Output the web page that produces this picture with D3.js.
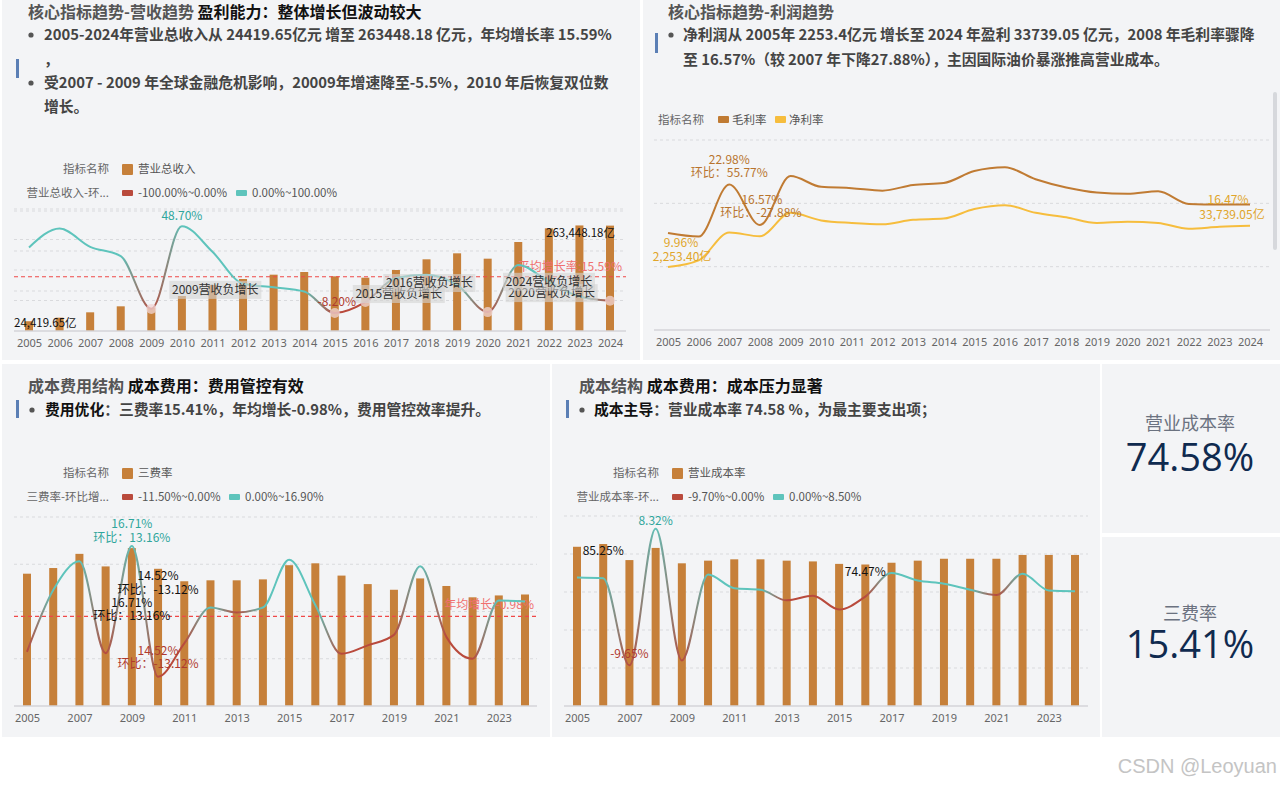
<!DOCTYPE html>
<html>
<head>
<meta charset="utf-8">
<script src="https://cdn.jsdelivr.net/npm/d3@7"></script>
<style>
body { margin: 0; background: #fff; font-family: "Noto Sans CJK SC", "Noto Sans", sans-serif; }
</style>
</head>
<body>
<div id="chart"></div>
<script>
// ---- data ----
const years = [2005, 2006, 2007, 2008, 2009, 2010, 2011, 2012, 2013, 2014,
               2015, 2016, 2017, 2018, 2019, 2020, 2021, 2022, 2023, 2024];
const oddYears = [2005, 2007, 2009, 2011, 2013, 2015, 2017, 2019, 2021, 2023];

// 营业总收入 (亿元) and its 环比 growth (%)
const revenue = [24419.65, 33300, 46700, 61700, 58300, 87500, 115000, 130000, 140800, 147500,
                 136700, 133300, 152500, 179200, 194200, 180800, 222500, 256700, 263900, 263448.18];
const revenueGrowth = [34.8, 47.2, 35.2, 29.1, -5.5, 48.70, 31.9, 11.0, 8.7, 5.9,
                       -8.20, -1.0, 14.8, 16.9, 10.2, -7.6, 23.3, 12.4, 2.6, -0.2];
const revenueAvgGrowth = 15.59;

// 毛利率 / 净利率 (%)
const grossMargin = [15.3, 14.75, 22.98, 16.57, 24.3, 22.6, 22.4, 22.0, 22.9, 23.2,
                     25.1, 25.7, 23.8, 22.5, 21.7, 21.5, 21.9, 19.9, 19.8, 19.8];
const netMargin = [9.96, 11.0, 15.4, 14.8, 18.5, 17.3, 16.9, 16.7, 17.4, 17.6,
                   19.1, 19.7, 18.5, 17.8, 16.9, 17.1, 16.9, 16.0, 16.3, 16.47];

// 三费率 (%) and its 环比 growth (%)
const feeRate = [14.0, 14.6, 16.1, 14.77, 16.71, 14.52, 13.2, 13.3, 13.3, 13.4,
                 14.9, 15.1, 13.8, 12.9, 12.3, 13.5, 12.7, 11.5, 11.7, 11.8];
const feeGrowth = [-8.1, 4.3, 10.1, -8.4, 13.16, -13.12, -6.4, 0.8, -0.2, 0.8,
                   10.4, 1.3, -8.5, -6.8, -4.7, 9.1, -5.1, -9.5, 2.2, 2.0];
const feeAvgGrowth = -0.98;

// 营业成本率 (%) and its 环比 growth (%)
const costRate = [83.8, 85.25, 76.8, 83.2, 75.1, 76.5, 77.2, 77.2, 76.5, 76.1,
                  74.8, 74.47, 75.4, 76.5, 77.5, 77.5, 77.5, 79.5, 79.5, 79.5];
const costGrowth = [1.9, 1.8, -9.65, 8.32, -9.0, 2.3, 0.5, 0.3, -1.1, -0.5,
                    -2.3, -0.6, 2.5, 1.5, 1.1, 0.3, -0.4, 2.4, 0.2, 0.1];

const kpiLabels = ["营业成本率", "三费率"];
const kpiValues = ["74.58%", "15.41%"];

// ---- colours ----
const BAR = "#c6803a", TEAL = "#5ec4bc", RED = "#b94a3c";
const BROWN = "#c07b33", GOLD = "#f6bd3d";
const PANEL = "#f3f4f6";

const svg = d3.select("#chart").append("svg")
    .attr("width", 1280).attr("height", 787)
    .style("font-family", '"Noto Sans CJK SC", "Noto Sans", sans-serif');
const defs = svg.append("defs");

// panels
[[2, 0, 638, 360], [643, 0, 637, 360], [2, 364, 548, 373], [552, 364, 548, 373],
 [1102, 364, 178, 169], [1102, 537, 178, 200]].forEach(p => {
    svg.append("rect").attr("x", p[0]).attr("y", p[1]).attr("width", p[2]).attr("height", p[3])
       .attr("fill", PANEL);
});
// little scrollbar on the profit panel
svg.append("rect").attr("x", 1273).attr("y", 92).attr("width", 4).attr("height", 158)
   .attr("rx", 2).attr("fill", "#d6d8dc");

// text helper: parts = [[string, fill, weight], ...]
function rich(x, y, parts, size, anchor) {
    const t = svg.append("text").attr("x", x).attr("y", y)
        .attr("font-size", size).attr("text-anchor", anchor || "start");
    parts.forEach(p => t.append("tspan").text(p[0]).attr("fill", p[1]).attr("font-weight", p[2] || 400));
    return t;
}
function label(g, x, y, s, fill, size, anchor) {
    return g.append("text").attr("x", x).attr("y", y).text(s)
        .attr("fill", fill).attr("font-size", size || 12)
        .attr("text-anchor", anchor || "middle");
}
function blueMark(x, y, h) {
    svg.append("rect").attr("x", x).attr("y", y).attr("width", 3).attr("height", h).attr("fill", "#5b7fb5");
}
function bullet(x, y) {
    svg.append("circle").attr("cx", x).attr("cy", y).attr("r", 2.6).attr("fill", "#555");
}

const BODY = 14.8;

// ---- headers ----
rich(28, 18, [["核心指标趋势-营收趋势", "#555", 600], [" 盈利能力：整体增长但波动较大", "#111", 700]], 16);
bullet(31, 35);
rich(44, 40, [["2005-2024年营业总收入从 24419.65亿元 增至 263448.18 亿元，年均增长率 15.59%", "#444", 700]], BODY);
rich(44, 65, [["，", "#444", 700]], BODY);
blueMark(16, 59, 19);
bullet(31, 83);
rich(44, 88, [["受2007 - 2009 年全球金融危机影响，20009年增速降至-5.5%，2010 年后恢复双位数", "#444", 700]], BODY);
rich(44, 112, [["增长。", "#444", 700]], BODY);

rich(668, 18, [["核心指标趋势-利润趋势", "#555", 600]], 16);
blueMark(655, 33, 20);
bullet(671, 35);
rich(683, 40, [["净利润从 2005年 2253.4亿元 增长至 2024 年盈利 33739.05 亿元，2008 年毛利率骤降", "#444", 700]], BODY);
rich(683, 65, [["至 16.57%（较 2007 年下降27.88%），主因国际油价暴涨推高营业成本。", "#444", 700]], BODY);

rich(28, 392, [["成本费用结构", "#555", 600], [" 成本费用：费用管控有效", "#111", 700]], 16);
blueMark(16, 400, 18);
bullet(32, 410);
rich(45, 415, [["费用优化", "#111", 700], ["：三费率15.41%，年均增长-0.98%，费用管控效率提升。", "#444", 700]], BODY);

rich(579, 392, [["成本结构", "#555", 600], [" 成本费用：成本压力显著", "#111", 700]], 16);
blueMark(566, 400, 18);
bullet(582, 410);
rich(594, 415, [["成本主导", "#111", 700], ["：营业成本率 74.58 %，为最主要支出项；", "#444", 700]], BODY);

// ---- legends ----
function legendRows(x0, y1, y2, barName, rowName, negText, posText, posX) {
    label(svg, x0 + 45, y1 + 4, "指标名称", "#666", 11.5, "end");
    svg.append("rect").attr("x", x0 + 58).attr("y", y1 - 5).attr("width", 11).attr("height", 11).attr("rx", 1).attr("fill", BAR);
    label(svg, x0 + 74, y1 + 4, barName, "#555", 11.5, "start");
    label(svg, x0 + 45, y2 + 4, rowName, "#666", 11.5, "end");
    svg.append("rect").attr("x", x0 + 58).attr("y", y2 - 3).attr("width", 11).attr("height", 6).attr("rx", 1).attr("fill", RED);
    label(svg, x0 + 74, y2 + 4, negText, "#555", 11.5, "start");
    svg.append("rect").attr("x", posX - 16).attr("y", y2 - 3).attr("width", 11).attr("height", 6).attr("rx", 1).attr("fill", TEAL);
    label(svg, posX, y2 + 4, posText, "#555", 11.5, "start");
}
legendRows(64, 169, 193, "营业总收入", "营业总收入-环...", "-100.00%~0.00%", "0.00%~100.00%", 252);
legendRows(64, 473, 497, "三费率", "三费率-环比增...", "-11.50%~0.00%", "0.00%~16.90%", 245);
legendRows(614, 473, 497, "营业成本率", "营业成本率-环...", "-9.70%~0.00%", "0.00%~8.50%", 789);

label(svg, 658, 124, "指标名称", "#666", 11.5, "start");
svg.append("rect").attr("x", 718).attr("y", 116).attr("width", 11).attr("height", 7).attr("rx", 1).attr("fill", BROWN);
label(svg, 732, 124, "毛利率", "#555", 11.5, "start");
svg.append("rect").attr("x", 775).attr("y", 116).attr("width", 11).attr("height", 7).attr("rx", 1).attr("fill", GOLD);
label(svg, 789, 124, "净利率", "#555", 11.5, "start");

// ---- shared chart helpers ----
function grid(g, ys, x1, x2) {
    ys.forEach(y => g.append("line").attr("x1", x1).attr("x2", x2).attr("y1", y).attr("y2", y)
        .attr("stroke", "#d9dadd").attr("stroke-dasharray", "3,3"));
}
function axis(g, x, y0, x1, x2, ticks) {
    g.append("line").attr("x1", x1).attr("x2", x2).attr("y1", y0).attr("y2", y0)
        .attr("stroke", "#d4d5d8").attr("stroke-width", 1.5);
    const ax = d3.axisBottom(x).tickSize(0).tickPadding(8);
    if (ticks) ax.tickValues(ticks);
    const a = g.append("g").attr("transform", `translate(0,${y0})`).call(ax);
    a.select(".domain").remove();
    a.selectAll("text").attr("fill", "#666").style("font-size", "11px")
        .style("font-family", '"Noto Sans", sans-serif');
}
function bars(g, x, y, vals, w) {
    g.selectAll(null).data(vals).enter().append("rect")
        .attr("x", (d, i) => x(years[i]) - w / 2)
        .attr("y", d => y(d))
        .attr("width", w)
        .attr("height", d => y(0) - y(d))
        .attr("fill", BAR);
}
// growth line coloured by sign, blending between neighbouring points
function signLine(g, id, x, y, vals) {
    const x0 = x(years[0]), span = x(years[years.length - 1]) - x0;
    const grad = defs.append("linearGradient").attr("id", id)
        .attr("gradientUnits", "userSpaceOnUse")
        .attr("x1", x0).attr("x2", x0 + span).attr("y1", 0).attr("y2", 0);
    vals.forEach((v, i) => grad.append("stop")
        .attr("offset", (x(years[i]) - x0) / span)
        .attr("stop-color", v < 0 ? RED : TEAL));
    g.append("path").datum(vals)
        .attr("d", d3.line().x((d, i) => x(years[i])).y(d => y(d)).curve(d3.curveMonotoneX))
        .attr("fill", "none").attr("stroke", `url(#${id})`).attr("stroke-width", 2);
}
function plainLine(g, x, y, vals, color) {
    g.append("path").datum(vals)
        .attr("d", d3.line().x((d, i) => x(years[i])).y(d => y(d)).curve(d3.curveMonotoneX))
        .attr("fill", "none").attr("stroke", color).attr("stroke-width", 2);
}
function avgLine(g, y, x1, x2) {
    g.append("line").attr("x1", x1).attr("x2", x2).attr("y1", y).attr("y2", y)
        .attr("stroke", "#f04848").attr("stroke-width", 1.2).attr("stroke-dasharray", "4,3");
}

// ---- chart A: 营收趋势 ----
const gA = svg.append("g");
const xA = d3.scalePoint().domain(years).range([29, 610]);
const yA = d3.scaleLinear().domain([0, 300000]).range([331, 211]);
const yAl = d3.scaleLinear().domain([-20, 60]).range([331, 209]);
grid(gA, yA.ticks(3).filter(t => t > 0).map(yA).concat(yAl.ticks(4).filter(t => t > -20).map(yAl)), 14, 626);
bars(gA, xA, yA, revenue, 8);
axis(gA, xA, 331, 14, 626);
avgLine(gA, yAl(revenueAvgGrowth), 14, 626);
label(gA, 622, yAl(revenueAvgGrowth) - 6, "平均增长率:" + revenueAvgGrowth.toFixed(2) + "%", "#f07070", 12, "end");
signLine(gA, "gradA", xA, yAl, revenueGrowth);
revenueGrowth.forEach((v, i) => {
    if (v >= 0) return;
    gA.append("circle").attr("cx", xA(years[i])).attr("cy", yAl(v)).attr("r", 5)
        .attr("fill", "rgba(240,214,214,0.75)");
});
revenueGrowth.forEach((v, i) => {
    if (v >= 0) return;
    const cx = xA(years[i]) + (i === years.length - 1 ? -61 : 64);
    const cy = yAl(v) - 19;
    gA.append("rect").attr("x", cx - 46).attr("y", cy - 9).attr("width", 92).attr("height", 18)
        .attr("fill", "rgba(212,212,212,0.6)");
    label(gA, cx, cy + 4, years[i] + "营收负增长", "#333", 12);
});
label(gA, xA(2005) - 15, yA(revenue[0]) + 6, d3.format(",.2f")(revenue[0]) + "亿", "#111", 11.5, "start");
label(gA, xA(2024) + 5, yA(revenue[19]) + 11, d3.format(",.2f")(revenue[19]) + "亿", "#111", 11.5, "end");
label(gA, xA(2010), yAl(revenueGrowth[5]) - 6, revenueGrowth[5].toFixed(2) + "%", "#2fa69c", 12);
label(gA, xA(2015) + 2, yAl(revenueGrowth[10]) - 7, revenueGrowth[10].toFixed(2) + "%", "#b03a2e", 12);

// ---- chart B: 利润趋势 ----
const gB = svg.append("g");
const xB = d3.scalePoint().domain(years).range([668, 1250]);
const yB = d3.scaleLinear().domain([0, 30]).range([330, 140]);
grid(gB, yB.ticks(3).filter(t => t > 0).map(yB), 654, 1270);
axis(gB, xB, 330, 654, 1270);
plainLine(gB, xB, yB, grossMargin, BROWN);
plainLine(gB, xB, yB, netMargin, GOLD);
label(gB, xB(2007), yB(grossMargin[2]) - 20, grossMargin[2].toFixed(2) + "%", "#b8742e", 12);
label(gB, xB(2007), yB(grossMargin[2]) - 7, "环比：55.77%", "#b8742e", 12);
label(gB, xB(2008) + 2, yB(grossMargin[3]) - 21, grossMargin[3].toFixed(2) + "%", "#b8742e", 12);
label(gB, xB(2008) + 1, yB(grossMargin[3]) - 8, "环比：-27.88%", "#b8742e", 12);
label(gB, xB(2005) + 13, yB(netMargin[0]) - 20, netMargin[0].toFixed(2) + "%", "#e0a52a", 12);
label(gB, xB(2005) + 14, yB(netMargin[0]) - 6, "2,253.40亿", "#e0a52a", 12);
label(gB, xB(2024) - 22, yB(netMargin[19]) - 22, netMargin[19].toFixed(2) + "%", "#e0a52a", 12);
label(gB, xB(2024) - 18, yB(netMargin[19]) - 7, "33,739.05亿", "#e0a52a", 12);

// ---- chart C: 三费率 ----
const gC = svg.append("g");
const xC = d3.scalePoint().domain(years).range([27, 525]);
const yC = d3.scaleLinear().domain([0, 20]).range([706, 517]);
const yCl = d3.scaleLinear().domain([-19, 19]).range([706, 517]);
grid(gC, yC.ticks(4).filter(t => t > 0).map(yC), 14, 537);
bars(gC, xC, yC, feeRate, 8);
axis(gC, xC, 706, 14, 537, oddYears);
avgLine(gC, yCl(feeAvgGrowth), 14, 537);
label(gC, 534, yCl(feeAvgGrowth) - 7, "年均增长:" + feeAvgGrowth.toFixed(2) + "%", "#f07070", 12, "end");
signLine(gC, "gradC", xC, yCl, feeGrowth);
label(gC, xC(2009), yCl(feeGrowth[4]) - 18, feeRate[4].toFixed(2) + "%", "#2fa69c", 12);
label(gC, xC(2009), yCl(feeGrowth[4]) - 4, "环比：" + feeGrowth[4].toFixed(2) + "%", "#2fa69c", 12);
label(gC, xC(2010), yC(feeRate[5]) + 11, feeRate[5].toFixed(2) + "%", "#111", 12);
label(gC, xC(2010), yC(feeRate[5]) + 25, "环比：" + feeGrowth[5].toFixed(2) + "%", "#111", 12);
label(gC, xC(2009), yC(feeRate[4]) + 59, feeRate[4].toFixed(2) + "%", "#111", 12);
label(gC, xC(2009), yC(feeRate[4]) + 72, "环比：" + feeGrowth[4].toFixed(2) + "%", "#111", 12);
label(gC, xC(2010), yCl(feeGrowth[5]) - 22, feeRate[5].toFixed(2) + "%", "#b03a2e", 12);
label(gC, xC(2010), yCl(feeGrowth[5]) - 9, "环比：" + feeGrowth[5].toFixed(2) + "%", "#b03a2e", 12);

// ---- chart D: 营业成本率 ----
const gD = svg.append("g");
const xD = d3.scalePoint().domain(years).range([577, 1075]);
const yD = d3.scaleLinear().domain([0, 100]).range([706, 516]);
const yDl = d3.scaleLinear().domain([-15, 15]).range([706, 478]);
grid(gD, yD.ticks(5).filter(t => t > 0).map(yD), 564, 1088);
bars(gD, xD, yD, costRate, 8);
axis(gD, xD, 706, 564, 1088, oddYears);
signLine(gD, "gradD", xD, yDl, costGrowth);
label(gD, xD(2006), yD(costRate[1]) + 11, costRate[1].toFixed(2) + "%", "#111", 12);
label(gD, xD(2016), yD(costRate[11]) + 11, costRate[11].toFixed(2) + "%", "#111", 12);
label(gD, xD(2008), yDl(costGrowth[3]) - 4, costGrowth[3].toFixed(2) + "%", "#2fa69c", 12);
label(gD, xD(2007), yDl(costGrowth[2]) - 7, costGrowth[2].toFixed(2) + "%", "#b03a2e", 12);

// ---- KPI cards ----
[[425, 457], [615, 644]].forEach((p, i) => {
    label(svg, 1190, p[0] + 5, kpiLabels[i], "#6b7280", 18);
    label(svg, 1190, p[1] + 14, kpiValues[i], "#0f2a4f", 38)
        .style("font-family", '"Open Sans", "Noto Sans", sans-serif');
});

// watermark
label(svg, 1277, 773, "CSDN @Leoyuan", "#c4c4c4", 20, "end")
    .style("font-family", '"Liberation Sans", Arial, sans-serif');
</script>
</body>
</html>
